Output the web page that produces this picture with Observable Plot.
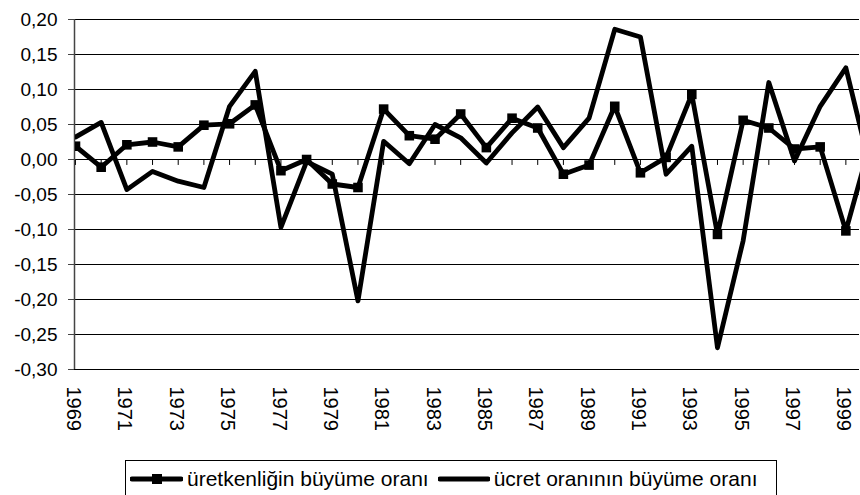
<!DOCTYPE html>
<html>
<head>
<meta charset="utf-8">
<script src="https://cdn.jsdelivr.net/npm/d3@7"></script>
<script src="https://cdn.jsdelivr.net/npm/@observablehq/plot@0.6"></script>
<style>
  html, body { margin: 0; padding: 0; background: #fff; overflow: hidden; width: 860px; height: 495px; }
  #chart svg { display: block; }
  .legend {
    position: relative;
    margin-left: 125px; margin-top: 5px;
    width: 652px; height: 45px;
    border: 1px solid #000; border-bottom: none;
    box-sizing: border-box;
    font-family: "Liberation Sans", Arial, sans-serif; font-size: 21px; color: #000;
    display: flex; align-items: flex-start; padding-top: 6px; padding-left: 4px;
    white-space: nowrap;
  }
  .legend .item { display: flex; align-items: center; }
  .legend svg { display: block; }
</style>
</head>
<body>
<div id="chart"></div>
<script>
const years = [1969,1970,1971,1972,1973,1974,1975,1976,1977,1978,1979,1980,1981,1982,1983,1984,
               1985,1986,1987,1988,1989,1990,1991,1992,1993,1994,1995,1996,1997,1998,1999,2000];
const productivity = [0.019,-0.011,0.021,0.025,0.018,0.049,0.051,0.078,-0.016,0.000,-0.035,-0.040,
                      0.072,0.034,0.029,0.065,0.017,0.059,0.045,-0.021,-0.008,0.076,-0.019,0.003,
                      0.093,-0.107,0.056,0.045,0.015,0.018,-0.102,0.030];
const wage = [0.032,0.053,-0.043,-0.017,-0.031,-0.040,0.076,0.126,-0.097,-0.003,-0.021,-0.202,
              0.026,-0.006,0.050,0.031,-0.005,0.038,0.075,0.017,0.059,0.186,0.175,-0.021,
              0.019,-0.269,-0.116,0.110,-0.002,0.076,0.131,-0.020];
const xLabels = [1969,1971,1973,1975,1977,1979,1981,1983,1985,1987,1989,1991,1993,1995,1997,1999];
const yTicks = [-0.30,-0.25,-0.20,-0.15,-0.10,-0.05,0.00,0.05,0.10,0.15,0.20];
const seriesNames = ["üretkenliğin büyüme oranı", "ücret oranının büyüme oranı"];

const prodRows = years.map((y, i) => ({year: y, value: productivity[i]}));
const wageRows = years.map((y, i) => ({year: y, value: wage[i]}));
const fmt = d => d.toFixed(2).replace(".", ",");

const chart = Plot.plot({
  width: 860,
  height: 455,
  marginLeft: 75,
  marginRight: 0,
  marginTop: 19,
  marginBottom: 86,
  x: {domain: [1969, 1999.57], axis: null},
  y: {domain: [-0.30, 0.20], axis: null},
  style: {fontFamily: "'Liberation Sans', Arial, sans-serif", color: "#000", background: "#fff", overflow: "hidden"},
  marks: [
    Plot.ruleY(yTicks, {stroke: "#000", strokeWidth: 1, dx: -1}),
    Plot.ruleX(years, {x: d => d, y1: 0, y2: -0.0085, stroke: "#000", strokeWidth: 1, clip: true}),
    Plot.ruleX([years[0]], {stroke: "#444", strokeWidth: 1.5, dx: -1}),
    Plot.axisY({ticks: yTicks, tickSize: 6, tickPadding: 11, tickFormat: fmt, fontSize: 19, dx: -1, stroke: "#444", label: null}),
    Plot.text(xLabels, {x: d => d, frameAnchor: "bottom", rotate: 90, textAnchor: "start", lineAnchor: "middle",
                        dy: 17, dx: -2, fontSize: 20, text: d => String(d)}),
    Plot.line(wageRows, {x: "year", y: "value", stroke: "#000", strokeWidth: 4.8, strokeLinejoin: "round", strokeLinecap: "round", clip: true}),
    Plot.line(prodRows, {x: "year", y: "value", stroke: "#000", strokeWidth: 4.8, strokeLinejoin: "round", strokeLinecap: "round", clip: true}),
    Plot.dot(prodRows, {x: "year", y: "value", symbol: "square", r: 5.4, fill: "#000", stroke: "none", clip: true})
  ]
});
document.getElementById("chart").appendChild(chart);

// legend below the SVG
const legend = document.createElement("div");
legend.className = "legend";
legend.innerHTML = `
  <div class="item">
    <svg width="53" height="22"><line x1="2" x2="51" y1="11" y2="11" stroke="#000" stroke-width="5" stroke-linecap="round"/><rect x="22" y="6" width="10" height="10" fill="#000"/></svg>
    <span style="margin-left:4px">${seriesNames[0]}</span>
  </div>
  <div class="item" style="margin-left:9px">
    <svg width="52" height="22"><line x1="2" x2="50" y1="11" y2="11" stroke="#000" stroke-width="5" stroke-linecap="round"/></svg>
    <span style="margin-left:4px">${seriesNames[1]}</span>
  </div>`;
document.body.appendChild(legend);
</script>
</body>
</html>
